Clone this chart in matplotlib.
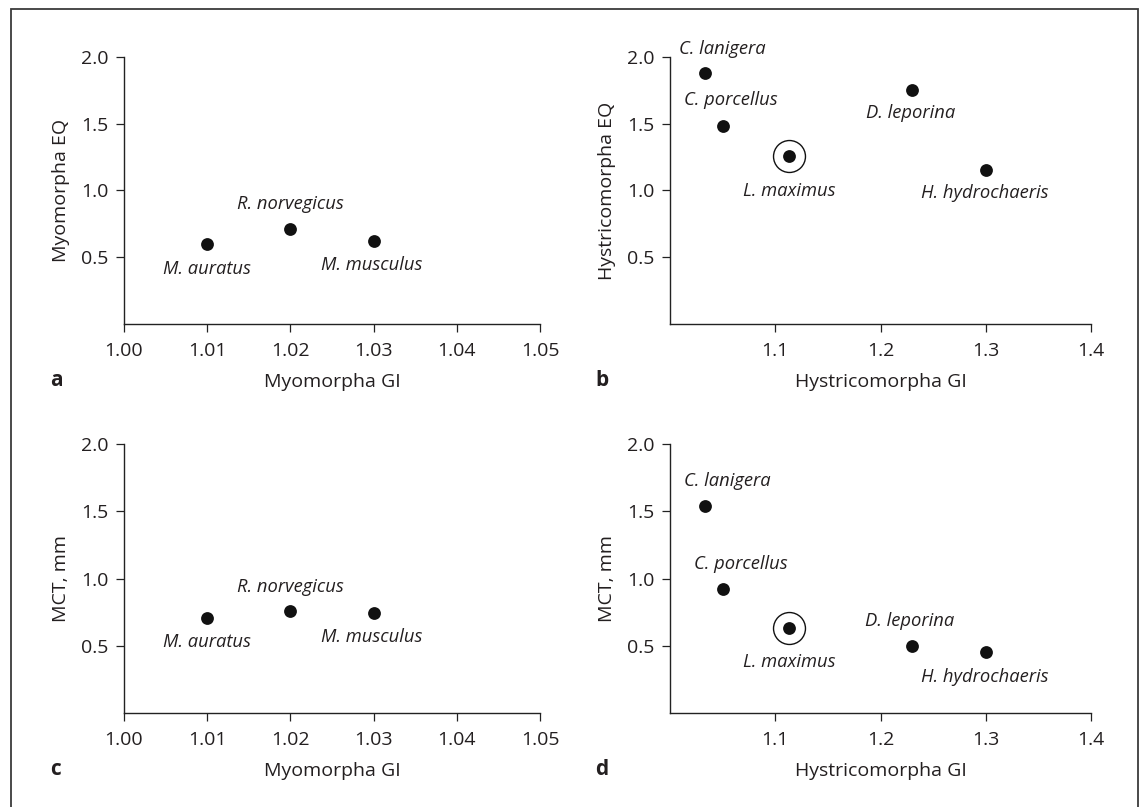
import matplotlib.pyplot as plt
from matplotlib.patches import Rectangle

plt.rcParams["font.family"] = ["Open Sans", "DejaVu Sans"]

# Myomorpha panels (a, c)
myo_species = ["M. auratus", "R. norvegicus", "M. musculus"]
myo_gi = [1.01, 1.02, 1.03]
myo_eq = [0.60, 0.71, 0.62]
myo_mct = [0.71, 0.76, 0.74]

# Hystricomorpha panels (b, d)
hys_species = ["C. lanigera", "C. porcellus", "L. maximus", "D. leporina", "H. hydrochaeris"]
hys_gi = [1.033, 1.05, 1.113, 1.23, 1.30]
hys_eq = [1.88, 1.48, 1.26, 1.75, 1.15]
hys_mct = [1.54, 0.92, 0.63, 0.50, 0.45]
highlight = "L. maximus"

# label offsets in pixels (dx, dy)
myo_off_eq = [(0, -25), (0, 25), (-2, -24)]
myo_off_mct = [(0, -24), (0, 24), (-2, -24)]
hys_off_eq = [(18, 24), (8, 26), (0, -35), (-1, -23), (-1, -23)]
hys_off_mct = [(23, 25), (18, 25), (0, -34), (-2, 25), (-1, -25)]

TXT = "#231f20"
W, H = 1144, 807
fig = plt.figure(figsize=(W / 100, H / 100), dpi=100)

# frame around the figure
fig.patches.append(Rectangle((11 / W, -0.02), 1127 / W, 1.02 - 9 / H,
                             transform=fig.transFigure, fill=False,
                             edgecolor="#3a3a3a", linewidth=1.3))


def panel(rect, x, y, names, offsets, xlim, xticks, xtl, ylabel, xlabel, letter):
    ax = fig.add_axes(rect)
    ax.scatter(x, y, s=85, color="#111111", zorder=3, linewidths=0)
    for xi, yi, name, (dx, dy) in zip(x, y, names, offsets):
        if name == highlight:
            ax.plot(xi, yi, "o", ms=23, mfc="none", mec="#111111", mew=1.0)
        ax.annotate(name, (xi, yi), xytext=(dx, dy), textcoords="offset pixels",
                    ha="center", va="center", style="italic", fontsize=13.2, color=TXT)
    ax.set_xlim(*xlim)
    ax.set_ylim(0, 2.0)
    ax.set_xticks(xticks)
    ax.set_xticklabels(xtl)
    ax.set_yticks([0.5, 1.0, 1.5, 2.0])
    ax.set_yticklabels(["0.5", "1.0", "1.5", "2.0"])
    for s in ["top", "right"]:
        ax.spines[s].set_visible(False)
    for s in ["left", "bottom"]:
        ax.spines[s].set_color("#222222")
        ax.spines[s].set_linewidth(1.0)
    ax.tick_params(axis="x", pad=7)
    ax.tick_params(direction="out", length=6, width=0.9, color="#222222",
                   labelsize=14, labelcolor=TXT)
    ax.tick_params(axis="y", pad=5)
    ax.set_xlabel(xlabel, fontsize=14, color=TXT, labelpad=9)
    ax.set_ylabel(ylabel, fontsize=14, color=TXT, labelpad=8)
    ax.text(-0.177, -0.21, letter, transform=ax.transAxes, fontsize=15,
            fontweight="bold", color=TXT, ha="left", va="center")
    return ax


myo_xt = [1.00, 1.01, 1.02, 1.03, 1.04, 1.05]
myo_xtl = ["1.00", "1.01", "1.02", "1.03", "1.04", "1.05"]
hys_xt = [1.1, 1.2, 1.3, 1.4]
hys_xtl = ["1.1", "1.2", "1.3", "1.4"]

top_y, top_h = 1 - 324 / H, 267 / H
bot_y, bot_h = 1 - 713 / H, 269 / H
left_a, w_a = 124 / W, 416 / W
left_b, w_b = 670 / W, 421 / W

panel([left_a, top_y, w_a, top_h], myo_gi, myo_eq, myo_species, myo_off_eq,
      (1.0, 1.05), myo_xt, myo_xtl, "Myomorpha EQ", "Myomorpha GI", "a")
panel([left_b, top_y, w_b, top_h], hys_gi, hys_eq, hys_species, hys_off_eq,
      (1.0, 1.4), hys_xt, hys_xtl, "Hystricomorpha EQ", "Hystricomorpha GI", "b")
panel([left_a, bot_y, w_a, bot_h], myo_gi, myo_mct, myo_species, myo_off_mct,
      (1.0, 1.05), myo_xt, myo_xtl, "MCT, mm", "Myomorpha GI", "c")
panel([left_b, bot_y, w_b, bot_h], hys_gi, hys_mct, hys_species, hys_off_mct,
      (1.0, 1.4), hys_xt, hys_xtl, "MCT, mm", "Hystricomorpha GI", "d")

fig.savefig("out.png", dpi=100)
